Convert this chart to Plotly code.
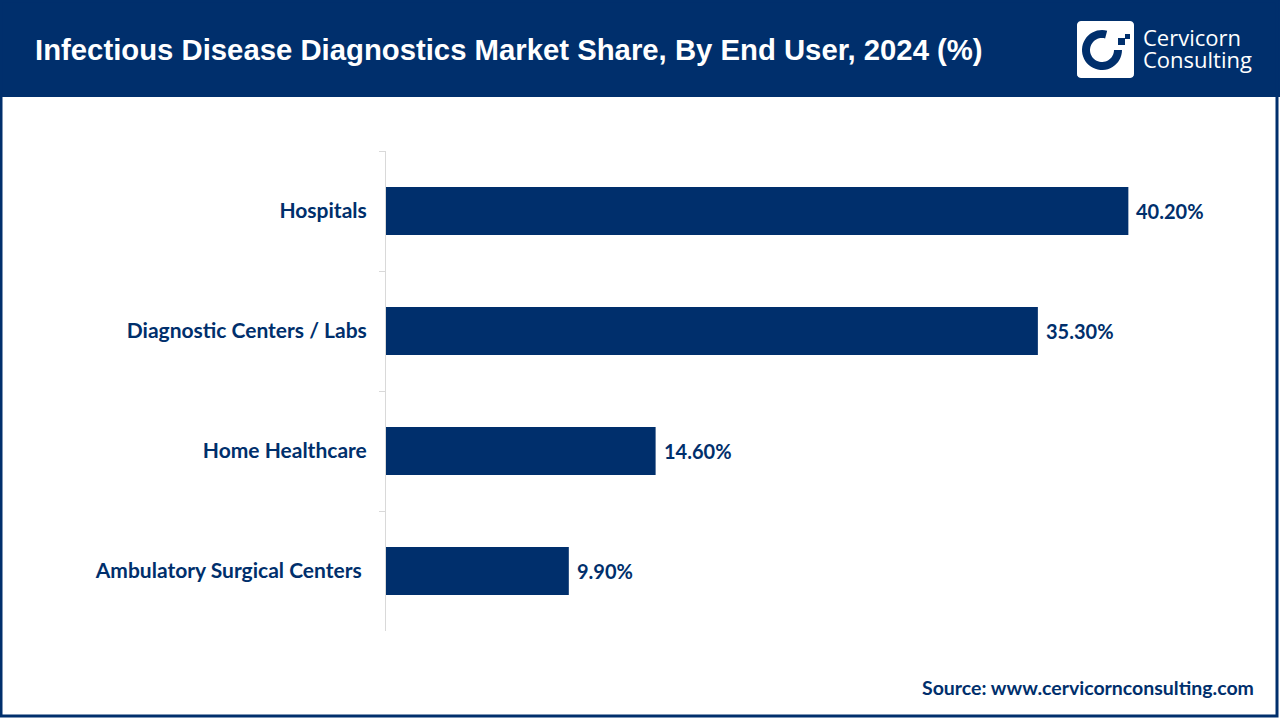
import numpy as np
import plotly.graph_objects as go

categories = ["Hospitals", "Diagnostic Centers / Labs", "Home Healthcare", "Ambulatory Surgical Centers "]
values = [40.20, 35.30, 14.60, 9.90]
value_labels = ["40.20%", "35.30%", "14.60%", "9.90%"]

NAVY = "#002F6C"
W, H = 1280, 720
ML, MR, MT, MB = 386, 63, 151, 89
PW, PH = W - ML - MR, H - MT - MB


def px(x):
    return (x - ML) / PW


def py(y):
    return (H - MB - y) / PH


fig = go.Figure(go.Bar(
    x=values, y=categories, orientation="h",
    marker=dict(color=NAVY, line=dict(width=0)),
    width=0.4,
    cliponaxis=False,
    hoverinfo="skip",
))

shapes = []
# header band
shapes.append(dict(type="rect", xref="paper", yref="paper", x0=px(0), x1=px(W), y0=py(97), y1=py(0),
                   fillcolor=NAVY, line=dict(width=0), layer="below"))
# outer border
shapes.append(dict(type="rect", xref="paper", yref="paper", x0=px(1), x1=px(1277), y0=py(716), y1=py(1),
                   fillcolor="rgba(0,0,0,0)", line=dict(color=NAVY, width=3)))


def rounded_rect(x0, y0, x1, y1, r):
    pts = []
    for cx, cy, a0 in [(x1 - r, y0 + r, -90), (x1 - r, y1 - r, 0), (x0 + r, y1 - r, 90), (x0 + r, y0 + r, 180)]:
        for a in np.linspace(a0, a0 + 90, 6):
            t = np.radians(a)
            pts.append((cx + r * np.cos(t), cy + r * np.sin(t)))
    return "M " + " L ".join(f"{px(a):.5f},{py(b):.5f}" for a, b in pts) + " Z"


shapes.append(dict(type="path", xref="paper", yref="paper", path=rounded_rect(1077, 21, 1134, 78, 4),
                   fillcolor="white", line=dict(width=0)))
# C ring
cx, cy, ro, ri = 1102, 50, 20, 12
angs = np.linspace(75, 360, 40)
outer = [(cx + ro * np.cos(np.radians(a)), cy - ro * np.sin(np.radians(a))) for a in angs]
inner = [(cx + ri * np.cos(np.radians(a)), cy - ri * np.sin(np.radians(a))) for a in angs[::-1]]
ring = outer + inner
shapes.append(dict(type="path", xref="paper", yref="paper",
                   path="M " + " L ".join(f"{px(a):.5f},{py(b):.5f}" for a, b in ring) + " Z",
                   fillcolor=NAVY, line=dict(width=0)))
shapes.append(dict(type="rect", xref="paper", yref="paper", x0=px(1118), x1=px(1125), y0=py(45), y1=py(38),
                   fillcolor=NAVY, line=dict(width=0)))
shapes.append(dict(type="rect", xref="paper", yref="paper", x0=px(1125), x1=px(1130), y0=py(39), y1=py(34),
                   fillcolor=NAVY, line=dict(width=0)))

annotations = [
    dict(text="Infectious Disease Diagnostics Market Share, By End User, 2024 (%)",
         xref="paper", yref="paper", x=px(33), y=py(50), xanchor="left", yanchor="middle", showarrow=False,
         font=dict(family="Liberation Sans", size=29.3, color="white", weight="bold")),
    dict(text="Cervicorn", xref="paper", yref="paper", x=px(1141), y=py(37), xanchor="left", yanchor="middle",
         showarrow=False, font=dict(family="Open Sans", size=22, color="white")),
    dict(text="Consulting", xref="paper", yref="paper", x=px(1141), y=py(59), xanchor="left", yanchor="middle",
         showarrow=False, font=dict(family="Open Sans", size=22, color="white")),
    dict(text="Source: www.cervicornconsulting.com", xref="paper", yref="paper", x=px(1256), y=py(687),
         xanchor="right", yanchor="middle", showarrow=False,
         font=dict(family="Lato", size=19.5, color=NAVY, weight="bold")),
]
for v, c, lab in zip(values, categories, value_labels):
    annotations.append(dict(x=v, y=c, xref="x", yref="y", text=lab, showarrow=False,
                            xanchor="left", yanchor="middle", xshift=6,
                            font=dict(family="Lato", size=20, color=NAVY, weight="bold")))

fig.update_layout(
    width=W, height=H,
    margin=dict(l=ML, r=MR, t=MT, b=MB, pad=0),
    paper_bgcolor="white", plot_bgcolor="white",
    showlegend=False,
    shapes=shapes, annotations=annotations,
    xaxis=dict(range=[0, 45], visible=False, showgrid=False, zeroline=False),
    yaxis=dict(autorange="reversed", showgrid=False, zeroline=False,
               showline=True, linecolor="#D9D9D9", linewidth=1,
               ticks="outside", ticklen=6, tickcolor="#D9D9D9", tickson="boundaries",
               ticklabelstandoff=14,
               tickfont=dict(family="Lato", size=21, color=NAVY, weight="bold")),
)

fig.write_html("out.html", config={"displayModeBar": False},
               post_script="document.body.style.margin='0';document.body.style.overflow='hidden';")
